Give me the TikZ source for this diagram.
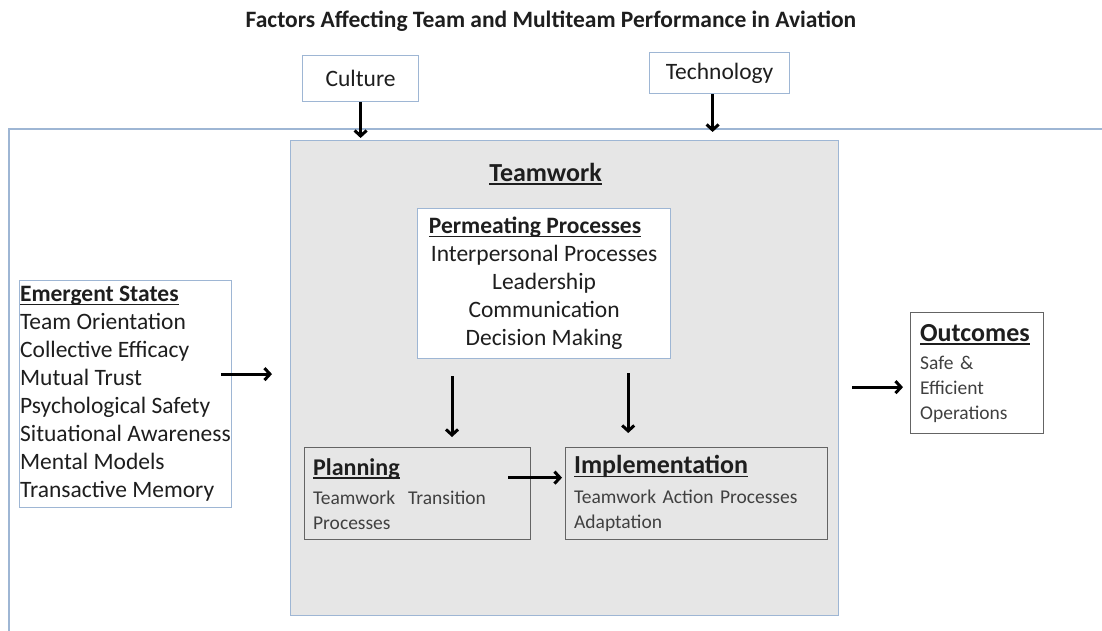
\documentclass[tikz,border=0pt]{standalone}
\usepackage{fontspec}
\setmainfont{Carlito}
\usetikzlibrary{arrows.meta, positioning, calc}
\definecolor{frameblue}{RGB}{158,182,212}
\definecolor{panelgray}{RGB}{230,230,230}
\definecolor{edgegray}{RGB}{100,100,100}
\definecolor{inkgray}{RGB}{30,30,30}
\definecolor{subgray}{RGB}{64,64,64}
% underline set just under the baseline
\newcommand{\ulin}[1]{\setbox0\hbox{#1}\rlap{\rule[-3.5pt]{\wd0}{1.6pt}}\box0}
\newcommand{\bodyfont}{\fontsize{23.5}{28}\selectfont}
\newcommand{\headfont}{\bfseries\fontsize{24}{28}\selectfont}
\newcommand{\bighead}{\bfseries\fontsize{26}{29}\selectfont}
\newcommand{\smallfont}{\fontsize{19.5}{25}\selectfont}

\begin{document}
\begin{tikzpicture}[
        x=1pt, y=-1pt,
        bluebox/.style={draw=frameblue, line width=1.2pt, fill=white, text=inkgray, font=\bodyfont},
        panel/.style={draw=frameblue, line width=1.2pt, fill=panelgray},
        innerbox/.style={draw=edgegray, line width=1.3pt, align=left, text=subgray, font=\smallfont, inner xsep=8.5pt, anchor=north west},
        frameline/.style={draw=frameblue, line width=1.2pt},
        arr/.style={line width=3pt, black, -{Straight Barb[length=5.5pt, width=12pt]}}
    ]
        \useasboundingbox (0,0) rectangle (1102,631);

        \node[font=\bfseries\fontsize{23.5}{27}\selectfont, text=inkgray] (title) at (551,21) {Factors Affecting Team and Multiteam Performance in Aviation};

        \draw[frameline] (9,631) -- (9,129) -- (1102,129);

        \node[bluebox, minimum width=116pt, minimum height=46pt, anchor=north west] (cult) at (302,55) {Culture};
        \node[bluebox, minimum width=140pt, minimum height=41pt, anchor=north west] (tech) at (649,52) {Technology};

        \node[panel, minimum width=548pt, minimum height=475pt, anchor=north west] (team) at (290,140) {};
        \node[font=\bfseries\fontsize{26}{30}\selectfont, text=inkgray] (teamlbl) at ($(team.north)+(-19,34)$) {\ulin{Teamwork}};

        \node[bluebox, minimum width=253pt, minimum height=150pt, anchor=north west, align=center] (perm) at (417,208)
            {\hspace*{-18pt}\textbf{\ulin{Permeating Processes}}\\Interpersonal Processes\\Leadership\\Communication\\Decision Making};

        \node[bluebox, minimum height=227pt, anchor=north west, align=left, inner xsep=0.5pt] (emerg) at (19,280)
            {\textbf{\ulin{Emergent States}}\\Team Orientation\\Collective Efficacy\\Mutual Trust\\Psychological Safety\\Situational Awareness\\Mental Models\\Transactive Memory};

        \node[innerbox, text width=209pt, minimum height=92pt] (plan) at (304,447)
            {{\color{inkgray}\headfont\ulin{Planning}}\\[4pt]Teamwork\ \ Transition\\Processes};
        \node[innerbox, text width=245pt, minimum height=92pt] (impl) at (565,447)
            {{\color{inkgray}\bighead\ulin{Implementation}}\\[5pt]Teamwork\ Action Processes\\Adaptation};

        \node[innerbox, fill=white, text width=114pt, minimum height=121pt, inner xsep=9.5pt] (outc) at (910,312)
            {{\color{inkgray}\bighead\ulin{Outcomes}}\\[3pt]Safe \&\\Efficient\\Operations};

        \draw[arr, shorten >=2pt] (cult.south) -- (cult.south |- team.north);
        \draw[arr, shorten >=8pt] ([xshift=-7pt]tech.south) -- ([xshift=-7pt]tech.south |- team.north);
        \draw[arr, shorten <=-11pt, shorten >=18pt] ([yshift=20pt]emerg.east) -- ([yshift=20pt]emerg.east -| team.west);
        \draw[arr, shorten <=17pt, shorten >=10pt] ([xshift=35pt]perm.south west) -- ([xshift=35pt]perm.south west |- plan.north);
        \draw[arr, shorten <=14pt, shorten >=14pt] ([xshift=-43pt]perm.south east) -- ([xshift=-43pt]perm.south east |- impl.north);
        \draw[arr, shorten <=-23pt, shorten >=3pt] ([yshift=16pt]plan.east) -- ([yshift=16pt]plan.east -| impl.west);
        \draw[arr, shorten <=13pt, shorten >=7pt] ([yshift=-14pt]outc.west -| team.east) -- ([yshift=-14pt]outc.west);
    \end{tikzpicture}
\end{document}
